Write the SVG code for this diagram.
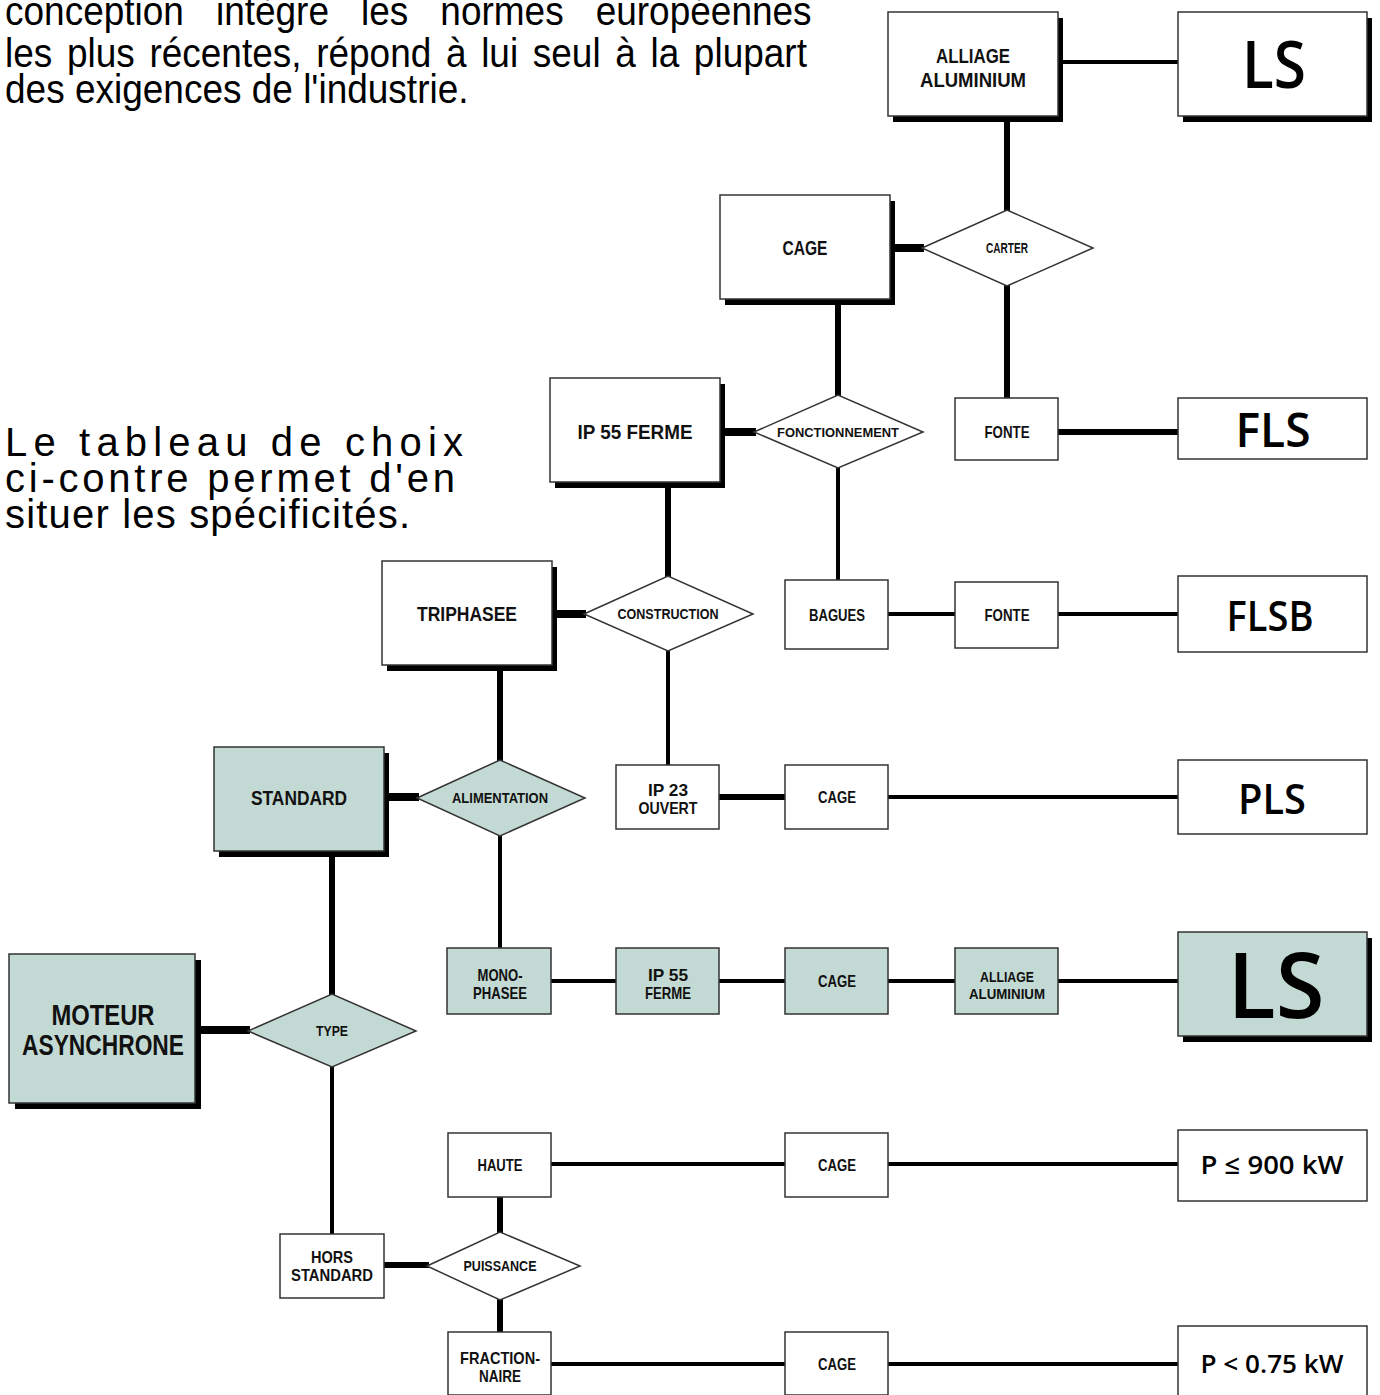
<svg xmlns="http://www.w3.org/2000/svg" width="1380" height="1395" viewBox="0 0 1380 1395">
<style>
.bx{fill:#fff;stroke:#333;stroke-width:1.5}
.gr{fill:#c3d9d3;stroke:#333;stroke-width:1.5}
.sh{fill:#000}
.c8{stroke:#000;stroke-width:8;fill:none}
.c6{stroke:#000;stroke-width:6;fill:none}
.c4{stroke:#000;stroke-width:4;fill:none}
.l{font-family:"Liberation Sans",Arial,sans-serif;font-weight:bold;text-anchor:middle;fill:#111}
.b{font-size:20px}
.s{font-size:16.5px}
.d{font-size:14px}
.r{font-family:"Open Sans","Liberation Sans",sans-serif;font-weight:600;text-anchor:middle;fill:#000}
.p{font-family:"Liberation Sans",Arial,sans-serif;font-size:40px;fill:#000}
.q{font-family:"Liberation Sans",Arial,sans-serif;font-size:40px;fill:#000}
</style>
<rect width="1380" height="1395" fill="#fff"/>
<g id="paragraph-top" transform="translate(5,0) scale(0.925,1)">
<text class="p" x="0" y="25" word-spacing="23.5">conception intègre les normes européennes</text>
<text class="p" x="0" y="67" word-spacing="4.7">les plus récentes, répond à lui seul à la plupart</text>
<text class="p" x="0" y="103">des exigences de l'industrie.</text>
</g>
<g id="paragraph-side">
<text class="q" x="5" y="456" textLength="458" lengthAdjust="spacing">Le tableau de choix</text>
<text class="q" x="5" y="492" textLength="450" lengthAdjust="spacing">ci-contre permet d'en</text>
<text class="q" x="5" y="528" textLength="405" lengthAdjust="spacing">situer les spécificités.</text>
</g>
<g id="connectors">
<line class="c4" x1="1058" y1="62" x2="1178" y2="62"/>
<line class="c6" x1="1007" y1="116" x2="1007" y2="212"/>
<line class="c8" x1="890" y1="248" x2="924" y2="248"/>
<line class="c6" x1="1007" y1="284" x2="1007" y2="398"/>
<line class="c6" x1="1058" y1="432" x2="1178" y2="432"/>
<line class="c6" x1="838" y1="299" x2="838" y2="397"/>
<line class="c8" x1="720" y1="432" x2="756" y2="432"/>
<line class="c4" x1="838" y1="466" x2="838" y2="580"/>
<line class="c4" x1="888" y1="614" x2="955" y2="614"/>
<line class="c4" x1="1058" y1="614" x2="1178" y2="614"/>
<line class="c6" x1="668" y1="482" x2="668" y2="578"/>
<line class="c8" x1="552" y1="614" x2="586" y2="614"/>
<line class="c4" x1="668" y1="649" x2="668" y2="765"/>
<line class="c6" x1="719" y1="797" x2="785" y2="797"/>
<line class="c4" x1="888" y1="797" x2="1178" y2="797"/>
<line class="c6" x1="500" y1="665" x2="500" y2="762"/>
<line class="c8" x1="384" y1="797" x2="419" y2="797"/>
<line class="c4" x1="500" y1="834" x2="500" y2="948"/>
<line class="c4" x1="551" y1="981" x2="616" y2="981"/>
<line class="c4" x1="719" y1="981" x2="785" y2="981"/>
<line class="c4" x1="888" y1="981" x2="955" y2="981"/>
<line class="c4" x1="1058" y1="981" x2="1178" y2="981"/>
<line class="c6" x1="332" y1="851" x2="332" y2="996"/>
<line class="c8" x1="195" y1="1030" x2="250" y2="1030"/>
<line class="c4" x1="332" y1="1065" x2="332" y2="1234"/>
<line class="c6" x1="384" y1="1265" x2="429" y2="1265"/>
<line class="c6" x1="500" y1="1197" x2="500" y2="1234"/>
<line class="c4" x1="551" y1="1164" x2="785" y2="1164"/>
<line class="c4" x1="888" y1="1164" x2="1178" y2="1164"/>
<line class="c6" x1="500" y1="1298" x2="500" y2="1332"/>
<line class="c4" x1="551" y1="1364" x2="785" y2="1364"/>
<line class="c4" x1="888" y1="1364" x2="1178" y2="1364"/>
</g>
<g id="n-alliage-top"><rect class="sh" x="893" y="18" width="170" height="104"/><rect class="bx" x="888" y="12" width="170" height="104"/><text class="l b" x="973" y="63" textLength="74" lengthAdjust="spacingAndGlyphs">ALLIAGE</text><text class="l b" x="973" y="87" textLength="106" lengthAdjust="spacingAndGlyphs">ALUMINIUM</text></g>
<g id="n-ls-top"><rect class="sh" x="1183" y="18" width="189" height="104"/><rect class="bx" x="1178" y="12" width="189" height="104"/><text class="r" font-size="66" x="1274" y="88" textLength="64" lengthAdjust="spacingAndGlyphs">LS</text></g>
<g id="n-cage-top"><rect class="sh" x="725" y="201" width="170" height="104"/><rect class="bx" x="720" y="195" width="170" height="104"/><text class="l b" x="805" y="255" textLength="45" lengthAdjust="spacingAndGlyphs">CAGE</text></g>
<g id="n-carter"><polygon class="bx" points="922,248 1007,210 1093,248 1007,286"/><text class="l d" x="1007" y="253" textLength="42" lengthAdjust="spacingAndGlyphs">CARTER</text></g>
<g id="n-fonte1"><rect class="bx" x="955" y="398" width="103" height="62"/><text class="l s" x="1007" y="438" textLength="45" lengthAdjust="spacingAndGlyphs">FONTE</text></g>
<g id="n-fls"><rect class="bx" x="1178" y="398" width="189" height="61"/><text class="r" font-size="47" x="1273" y="447" textLength="75" lengthAdjust="spacingAndGlyphs">FLS</text></g>
<g id="n-ip55"><rect class="sh" x="555" y="384" width="170" height="104"/><rect class="bx" x="550" y="378" width="170" height="104"/><text class="l b" x="635" y="439" textLength="115" lengthAdjust="spacingAndGlyphs">IP 55 FERME</text></g>
<g id="n-fonctionnement"><polygon class="bx" points="754,432 838,395 923,432 838,468"/><text class="l" font-size="13.5" x="838" y="437" textLength="122" lengthAdjust="spacingAndGlyphs">FONCTIONNEMENT</text></g>
<g id="n-bagues"><rect class="bx" x="785" y="580" width="103" height="69"/><text class="l s" x="837" y="621" textLength="56" lengthAdjust="spacingAndGlyphs">BAGUES</text></g>
<g id="n-fonte2"><rect class="bx" x="955" y="582" width="103" height="66"/><text class="l s" x="1007" y="621" textLength="45" lengthAdjust="spacingAndGlyphs">FONTE</text></g>
<g id="n-flsb"><rect class="bx" x="1178" y="576" width="189" height="76"/><text class="r" font-size="42" x="1270" y="631" textLength="87" lengthAdjust="spacingAndGlyphs">FLSB</text></g>
<g id="n-triphasee"><rect class="sh" x="387" y="567" width="170" height="104"/><rect class="bx" x="382" y="561" width="170" height="104"/><text class="l b" x="467" y="621" textLength="100" lengthAdjust="spacingAndGlyphs">TRIPHASEE</text></g>
<g id="n-construction"><polygon class="bx" points="584,614 668,576 753,614 668,651"/><text class="l d" x="668" y="619" textLength="101" lengthAdjust="spacingAndGlyphs">CONSTRUCTION</text></g>
<g id="n-ip23"><rect class="bx" x="616" y="765" width="103" height="64"/><text class="l s" x="668" y="796" textLength="40" lengthAdjust="spacingAndGlyphs">IP 23</text><text class="l s" x="668" y="814" textLength="59" lengthAdjust="spacingAndGlyphs">OUVERT</text></g>
<g id="n-cage-mid"><rect class="bx" x="785" y="765" width="103" height="64"/><text class="l s" x="837" y="803" textLength="38" lengthAdjust="spacingAndGlyphs">CAGE</text></g>
<g id="n-pls"><rect class="bx" x="1178" y="760" width="189" height="74"/><text class="r" font-size="42" x="1272" y="814" textLength="68" lengthAdjust="spacingAndGlyphs">PLS</text></g>
<g id="n-standard"><rect class="sh" x="219" y="753" width="170" height="104"/><rect class="gr" x="214" y="747" width="170" height="104"/><text class="l b" x="299" y="805" textLength="96" lengthAdjust="spacingAndGlyphs">STANDARD</text></g>
<g id="n-alimentation"><polygon class="gr" points="417,798 500,760 585,798 500,836"/><text class="l d" x="500" y="803" textLength="96" lengthAdjust="spacingAndGlyphs">ALIMENTATION</text></g>
<g id="n-monophasee"><rect class="gr" x="447" y="948" width="104" height="66"/><text class="l s" x="500" y="981" textLength="45" lengthAdjust="spacingAndGlyphs">MONO-</text><text class="l s" x="500" y="999" textLength="54" lengthAdjust="spacingAndGlyphs">PHASEE</text></g>
<g id="n-ip55-g"><rect class="gr" x="616" y="948" width="103" height="66"/><text class="l s" x="668" y="981" textLength="40" lengthAdjust="spacingAndGlyphs">IP 55</text><text class="l s" x="668" y="999" textLength="46" lengthAdjust="spacingAndGlyphs">FERME</text></g>
<g id="n-cage-g"><rect class="gr" x="785" y="948" width="103" height="66"/><text class="l s" x="837" y="987" textLength="38" lengthAdjust="spacingAndGlyphs">CAGE</text></g>
<g id="n-alliage-g"><rect class="gr" x="955" y="948" width="103" height="66"/><text class="l" font-size="15" x="1007" y="982" textLength="54" lengthAdjust="spacingAndGlyphs">ALLIAGE</text><text class="l" font-size="15" x="1007" y="999" textLength="76" lengthAdjust="spacingAndGlyphs">ALUMINIUM</text></g>
<g id="n-ls-g"><rect class="sh" x="1183" y="938" width="189" height="104"/><rect class="gr" x="1178" y="932" width="189" height="104"/><text class="r" font-size="90" x="1276" y="1018" textLength="97" lengthAdjust="spacingAndGlyphs">LS</text></g>
<g id="n-moteur"><rect class="sh" x="15" y="960" width="186" height="149"/><rect class="gr" x="9" y="954" width="186" height="149"/><text class="l" font-size="29" x="103" y="1025" textLength="103" lengthAdjust="spacingAndGlyphs">MOTEUR</text><text class="l" font-size="29" x="103" y="1055" textLength="162" lengthAdjust="spacingAndGlyphs">ASYNCHRONE</text></g>
<g id="n-type"><polygon class="gr" points="248,1031 332,994 416,1031 332,1067"/><text class="l d" x="332" y="1036" textLength="32" lengthAdjust="spacingAndGlyphs">TYPE</text></g>
<g id="n-hors"><rect class="bx" x="280" y="1234" width="104" height="64"/><text class="l s" x="332" y="1263" textLength="42" lengthAdjust="spacingAndGlyphs">HORS</text><text class="l s" x="332" y="1281" textLength="82" lengthAdjust="spacingAndGlyphs">STANDARD</text></g>
<g id="n-puissance"><polygon class="bx" points="427,1266 500,1232 580,1266 500,1300"/><text class="l d" x="500" y="1271" textLength="73" lengthAdjust="spacingAndGlyphs">PUISSANCE</text></g>
<g id="n-haute"><rect class="bx" x="448" y="1133" width="103" height="64"/><text class="l s" x="500" y="1171" textLength="45" lengthAdjust="spacingAndGlyphs">HAUTE</text></g>
<g id="n-cage-h"><rect class="bx" x="785" y="1133" width="103" height="64"/><text class="l s" x="837" y="1171" textLength="38" lengthAdjust="spacingAndGlyphs">CAGE</text></g>
<g id="n-p900"><rect class="bx" x="1178" y="1130" width="189" height="71"/><text class="r" font-size="26" x="1272" y="1174" textLength="143" lengthAdjust="spacingAndGlyphs">P ≤ 900 kW</text></g>
<g id="n-fraction"><rect class="bx" x="448" y="1332" width="103" height="63"/><text class="l s" x="500" y="1364" textLength="80" lengthAdjust="spacingAndGlyphs">FRACTION-</text><text class="l s" x="500" y="1382" textLength="42" lengthAdjust="spacingAndGlyphs">NAIRE</text></g>
<g id="n-cage-f"><rect class="bx" x="785" y="1332" width="103" height="63"/><text class="l s" x="837" y="1370" textLength="38" lengthAdjust="spacingAndGlyphs">CAGE</text></g>
<g id="n-p075"><rect class="bx" x="1178" y="1326" width="189" height="70"/><text class="r" font-size="26" x="1272" y="1373" textLength="143" lengthAdjust="spacingAndGlyphs">P &lt; 0.75 kW</text></g>
</svg>
